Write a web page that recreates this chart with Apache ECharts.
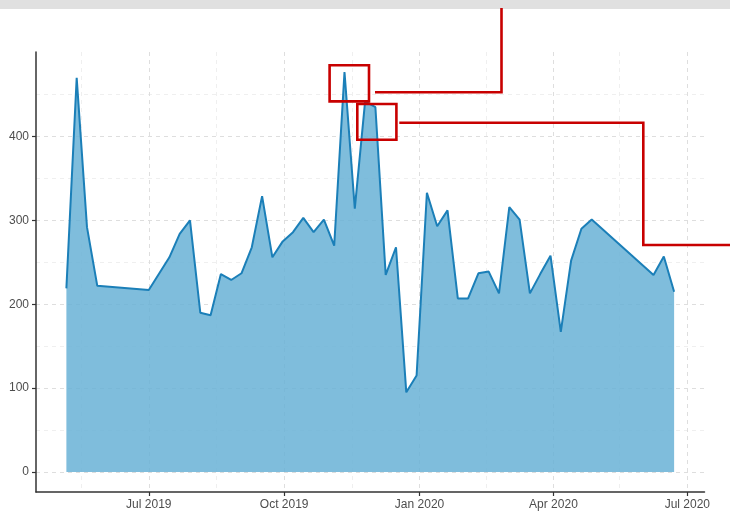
<!DOCTYPE html>
<html>
<head>
<meta charset="utf-8">
<script src="https://cdn.jsdelivr.net/npm/echarts@6/dist/echarts.min.js"></script>
<style>
  html, body { margin: 0; padding: 0; background: #ffffff; }
  #chart { width: 730px; height: 515px; }
</style>
</head>
<body>
<div id="chart"></div>
<script>
// Weekly totals (week starting Monday)
const weeks = [
  '2019-05-06', '2019-05-13', '2019-05-20', '2019-05-27',
  '2019-07-01', '2019-07-15', '2019-07-22', '2019-07-29',
  '2019-08-05', '2019-08-12', '2019-08-19', '2019-08-26',
  '2019-09-02', '2019-09-09', '2019-09-16', '2019-09-23', '2019-09-30',
  '2019-10-07', '2019-10-14', '2019-10-21', '2019-10-28',
  '2019-11-04', '2019-11-11', '2019-11-18', '2019-11-25',
  '2019-12-02', '2019-12-09', '2019-12-16', '2019-12-23', '2019-12-30',
  '2020-01-06', '2020-01-13', '2020-01-20', '2020-01-27',
  '2020-02-03', '2020-02-10', '2020-02-17', '2020-02-24',
  '2020-03-02', '2020-03-09', '2020-03-16', '2020-03-23', '2020-03-30',
  '2020-04-06', '2020-04-13', '2020-04-20', '2020-04-27',
  '2020-06-08', '2020-06-15', '2020-06-22'
];
const counts = [
  219, 470, 292, 222,
  217, 256, 284, 300,
  190, 187, 236, 229,
  237, 268, 329, 256, 275,
  286, 303, 286, 301,
  270, 477, 314, 442,
  435, 235, 268, 95, 115,
  333, 293, 312, 207,
  207, 237, 239, 213,
  316, 301, 213, 236, 258,
  167, 252, 290, 301,
  235, 257, 215
];

// Axis breaks
const yBreaks = [0, 100, 200, 300, 400];
const yMinorBreaks = [50, 150, 250, 350, 450];
const xBreaks = ['2019-07-01', '2019-10-01', '2020-01-01', '2020-04-01', '2020-07-01'];
const xMinorBreaks = ['2019-05-16', '2019-08-16', '2019-11-16', '2020-02-15', '2020-05-16'];
const monthNames = ['Jan', 'Feb', 'Mar', 'Apr', 'May', 'Jun', 'Jul', 'Aug', 'Sep', 'Oct', 'Nov', 'Dec'];

function toTime(s) {
  const p = s.split('-').map(Number);
  return new Date(p[0], p[1] - 1, p[2]).getTime();
}

const weekTimes = weeks.map(toTime);
const xSpan = weekTimes[weekTimes.length - 1] - weekTimes[0];
const xMin = weekTimes[0] - xSpan * 0.05;
const xMax = weekTimes[weekTimes.length - 1] + xSpan * 0.05;
const yTop = Math.max.apply(null, counts);
const yMin = -yTop * 0.05;
const yMax = yTop * 1.05;

const xBreakTimes = xBreaks.map(toTime);
const xMinorTimes = xMinorBreaks.map(toTime);

const axisColor = '#333333';
const labelStyle = { color: '#4d4d4d', fontSize: 12, fontFamily: 'Liberation Sans, Arial, sans-serif' };
const majorGrid = { show: true, lineStyle: { color: '#dedede', width: 1, type: [4, 4] } };
const minorGrid = { show: true, lineStyle: { color: '#efefef', width: 1, type: [4, 4] } };

const chart = echarts.init(document.getElementById('chart'), null, { renderer: 'canvas' });

chart.setOption({
  animation: false,
  backgroundColor: '#ffffff',
  grid: { left: 36, right: 25.5, top: 52, bottom: 23, containLabel: false },
  xAxis: [
    {
      type: 'value', min: xMin, max: xMax,
      axisLine: { show: true, onZero: false, lineStyle: { color: axisColor, width: 1.5 } },
      axisTick: { show: true, length: 4, customValues: xBreakTimes, lineStyle: { color: axisColor, width: 1.2 } },
      axisLabel: Object.assign({
        customValues: xBreakTimes,
        margin: 7,
        formatter: function (v) {
          const d = new Date(v);
          return monthNames[d.getMonth()] + ' ' + d.getFullYear();
        }
      }, labelStyle),
      splitLine: majorGrid
    },
    {
      type: 'value', min: xMin, max: xMax, position: 'bottom',
      axisLine: { show: false, onZero: false },
      axisTick: { show: false, customValues: xMinorTimes },
      axisLabel: { show: false, customValues: xMinorTimes },
      splitLine: minorGrid
    }
  ],
  yAxis: [
    {
      type: 'value', min: yMin, max: yMax,
      axisLine: { show: true, onZero: false, lineStyle: { color: axisColor, width: 1.5 } },
      axisTick: { show: true, length: 4, customValues: yBreaks, lineStyle: { color: axisColor, width: 1.2 } },
      axisLabel: Object.assign({ customValues: yBreaks, margin: 7 }, labelStyle),
      splitLine: majorGrid
    },
    {
      type: 'value', min: yMin, max: yMax, position: 'left',
      axisLine: { show: false, onZero: false },
      axisTick: { show: false, customValues: yMinorBreaks },
      axisLabel: { show: false, customValues: yMinorBreaks },
      splitLine: minorGrid
    }
  ],
  series: [
    {
      type: 'line',
      xAxisIndex: 0,
      yAxisIndex: 0,
      data: weekTimes.map(function (t, i) { return [t, counts[i]]; }),
      symbol: 'none',
      z: 3,
      lineStyle: { color: '#1b7fb8', width: 2 },
      areaStyle: { color: 'rgb(104,178,214)', opacity: 0.85, origin: 'auto' }
    }
  ],
  graphic: [
    { type: 'rect', z: 10, shape: { x: 0, y: 0, width: 730, height: 9 }, style: { fill: '#e0e0e0' } },
    { type: 'rect', z: 20, shape: { x: 329.6, y: 65.3, width: 39.4, height: 36.1 },
      style: { fill: 'none', stroke: '#c80000', lineWidth: 2.6 } },
    { type: 'rect', z: 20, shape: { x: 357.3, y: 104, width: 39.1, height: 35.7 },
      style: { fill: 'none', stroke: '#c80000', lineWidth: 2.6 } },
    { type: 'polyline', z: 20, shape: { points: [[375, 92.3], [501.5, 92.3], [501.5, 8]] },
      style: { fill: 'none', stroke: '#c80000', lineWidth: 2.6 } },
    { type: 'polyline', z: 20, shape: { points: [[399.3, 122.7], [643.3, 122.7], [643.3, 245], [730, 245]] },
      style: { fill: 'none', stroke: '#c80000', lineWidth: 2.6 } }
  ]
});
</script>
</body>
</html>
